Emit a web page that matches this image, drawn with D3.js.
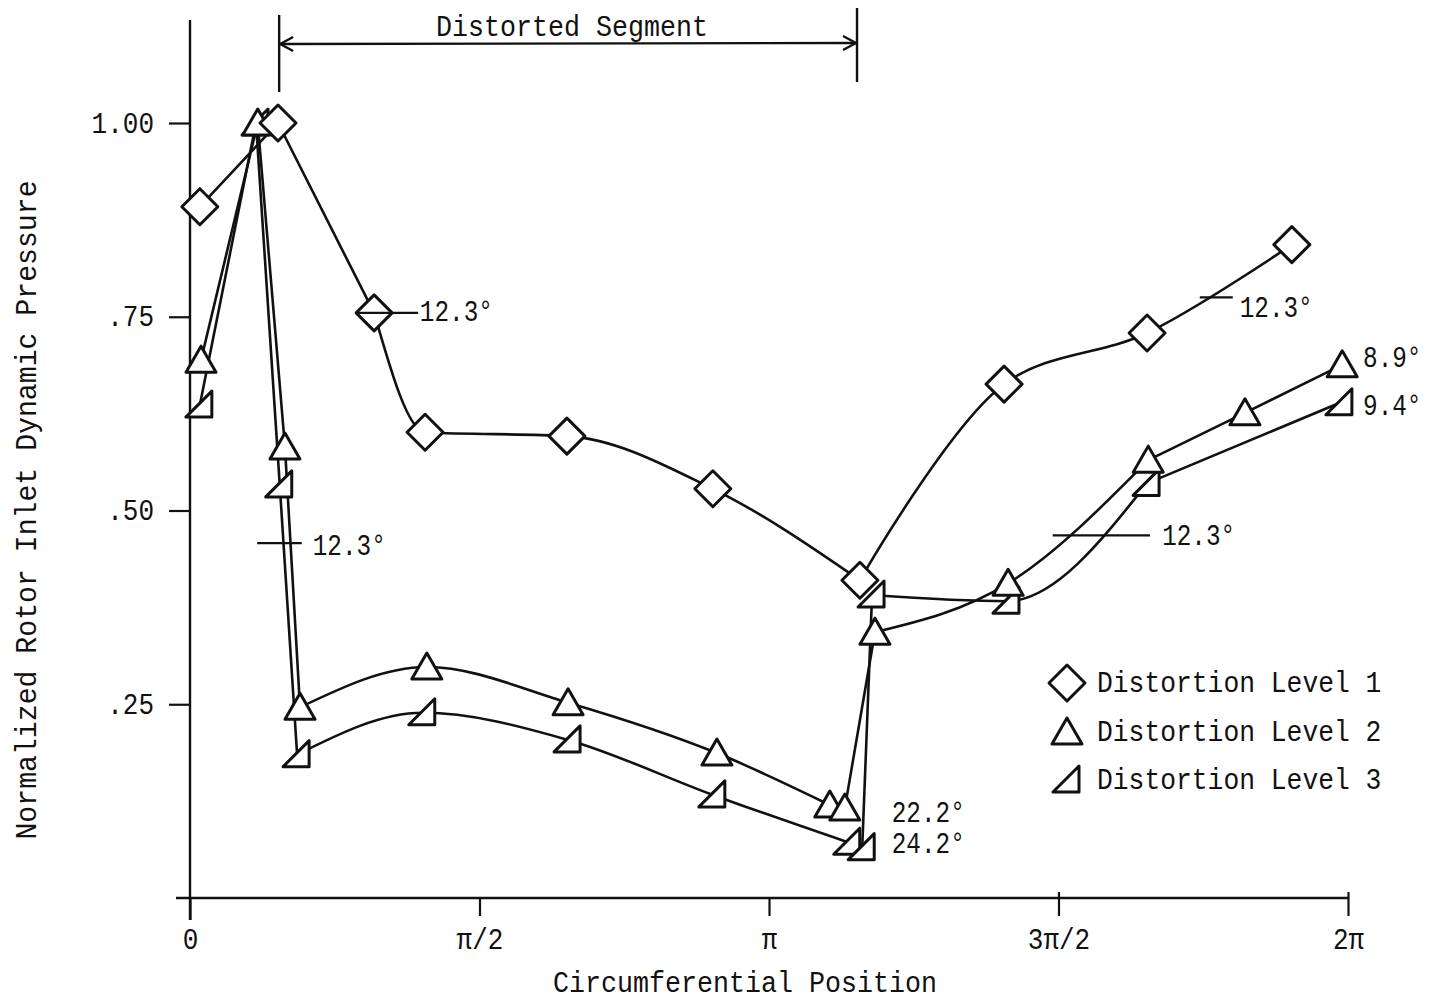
<!DOCTYPE html>
<html>
<head>
<meta charset="utf-8">
<script src="https://cdn.jsdelivr.net/npm/d3@7"></script>
<style>
  html, body { margin: 0; padding: 0; background: #fff; }
  svg { display: block; }
  text { font-family: "Liberation Mono", "Courier New", monospace; fill: #111; }
</style>
</head>
<body>
<svg id="chart" width="1435" height="1002"></svg>
<script>
// Circumferential position in units of π, normalized rotor inlet dynamic pressure
const level1X = [0.017, 0.152, 0.318, 0.406, 0.651, 0.903, 1.157, 1.406, 1.653, 1.903];
const level1Y = [0.892, 1.00, 0.755, 0.601, 0.596, 0.528, 0.410, 0.663, 0.729, 0.843];

const level2X = [0.019, 0.117, 0.164, 0.190, 0.409, 0.653, 0.910, 1.105, 1.131, 1.183, 1.413, 1.655, 1.822, 1.990];
const level2Y = [0.694, 1.00, 0.582, 0.246, 0.298, 0.252, 0.187, 0.120, 0.116, 0.343, 0.406, 0.565, 0.626, 0.688];

const level3X = [0.017, 0.114, 0.155, 0.185, 0.402, 0.653, 0.903, 1.136, 1.161, 1.178, 1.411, 1.653, 1.986];
const level3Y = [0.636, 1.00, 0.533, 0.185, 0.239, 0.204, 0.133, 0.072, 0.065, 0.391, 0.383, 0.535, 0.639];

// Which runs of points are joined by straight strokes and which by faired curves
const level1Pieces = [[0, 2, "linear"], [2, 6, "monotone"], [6, 9, "spline"]];
const level2Pieces = [[0, 3, "linear"], [3, 7, "monotone"], [7, 9, "linear"], [9, 11, "monotone"], [11, 13, "linear"]];
const level3Pieces = [[0, 3, "linear"], [3, 7, "monotone"], [7, 9, "linear"], [9, 11, "monotone"], [11, 12, "linear"]];

const seriesNames = ["Distortion Level 1", "Distortion Level 2", "Distortion Level 3"];

const xTickValues = [0, 0.5, 1, 1.5, 2];
const xTickLabels = ["0", "π/2", "π", "3π/2", "2π"];
const yTickValues = [0.25, 0.5, 0.75, 1.0];
const yTickLabels = [".25", ".50", ".75", "1.00"];

// Extent of the distorted segment (units of π)
const distortedSegment = [0.154, 1.152];

// Angle annotations: text anchor and optional leader line
const annoText  = ["12.3°", "12.3°", "12.3°", "12.3°", "8.9°", "9.4°", "22.2°", "24.2°"];
const annoX     = [0.397, 0.212, 1.813, 1.679, 2.026, 2.026, 1.212, 1.212];
const annoY     = [0.757, 0.455, 0.763, 0.468, 0.698, 0.636, 0.111, 0.071];
const annoLineX1 = [0.288, 0.116, 1.744, 1.490, null, null, null, null];
const annoLineX2 = [0.394, 0.193, 1.801, 1.658, null, null, null, null];
const annoLineY  = [0.755, 0.458, 0.775, 0.468, null, null, null, null];

const svg = d3.select("#chart");
const INK = "#111";

const x = d3.scaleLinear().domain([0, 2]).range([190, 1348]);
const y = d3.scaleLinear().domain([0, 1]).range([898, 123]);

// Typewriter-style text: tall glyphs on a narrow fixed pitch
function typeset(sel, pitch) {
  sel.each(function () {
    const t = d3.select(this);
    const n = Array.from(t.text()).length;
    t.attr("textLength", n * pitch).attr("lengthAdjust", "spacingAndGlyphs");
  });
  return sel;
}

// ---- axes ----
const xAxis = svg.append("g")
  .attr("transform", `translate(0,${y(0)})`)
  .call(d3.axisBottom(x).tickValues(xTickValues)
    .tickFormat((d, i) => xTickLabels[i]).tickSize(20));
xAxis.select(".domain").remove();
xAxis.selectAll(".tick line")
  .attr("stroke", INK).attr("stroke-width", 2.2)
  .attr("y1", d => d >= 1.5 ? -6 : 0)
  .attr("y2", d => d === 0 ? 22 : 18);
xAxis.selectAll(".tick text")
  .attr("y", 51).attr("dy", 0)
  .attr("font-size", 30).attr("font-family", null)
  .call(typeset, 15.6);

const yAxis = svg.append("g")
  .attr("transform", `translate(${x(0)},0)`)
  .call(d3.axisLeft(y).tickValues(yTickValues)
    .tickFormat((d, i) => yTickLabels[i]).tickSize(21));
yAxis.select(".domain").remove();
yAxis.selectAll(".tick line").attr("stroke", INK).attr("stroke-width", 2.2);
yAxis.selectAll(".tick text")
  .attr("x", -36).attr("dy", 9)
  .attr("font-size", 30).attr("font-family", null)
  .call(typeset, 15.6);

// axis rules
svg.append("line")
  .attr("x1", x(0)).attr("x2", x(0)).attr("y1", 20).attr("y2", y(0) + 22)
  .attr("stroke", INK).attr("stroke-width", 2.4);
svg.append("line")
  .attr("x1", x(0) - 14).attr("x2", x(2)).attr("y1", y(0)).attr("y2", y(0))
  .attr("stroke", INK).attr("stroke-width", 2.6);

// axis titles
svg.append("text")
  .attr("x", 745).attr("y", 992).attr("text-anchor", "middle")
  .attr("font-size", 30).text("Circumferential Position").call(typeset, 16);
svg.append("text")
  .attr("transform", "translate(36,510) rotate(-90)").attr("text-anchor", "middle")
  .attr("font-size", 30).text("Normalized Rotor Inlet Dynamic Pressure").call(typeset, 16.9);

// ---- distorted segment dimension line ----
const segG = svg.append("g").attr("stroke", INK).attr("fill", "none").attr("stroke-width", 2.4);
const sx0 = x(distortedSegment[0]), sx1 = x(distortedSegment[1]);
segG.append("line").attr("x1", sx0).attr("x2", sx0).attr("y1", 15).attr("y2", 92);
segG.append("line").attr("x1", sx1).attr("x2", sx1).attr("y1", 8).attr("y2", 82);
segG.append("line").attr("x1", sx0).attr("x2", sx1).attr("y1", 44).attr("y2", 43);
segG.append("path").attr("d", `M${sx0 + 14},37 L${sx0 + 1},44 L${sx0 + 14},51`);
segG.append("path").attr("d", `M${sx1 - 14},36 L${sx1 - 1},43 L${sx1 - 14},50`);
svg.append("text")
  .attr("x", (sx0 + sx1) / 2 + 4).attr("y", 36).attr("text-anchor", "middle")
  .attr("font-size", 30).text("Distorted Segment").call(typeset, 16);

// ---- data curves ----
const curveKinds = {
  linear: d3.curveLinear,
  monotone: d3.curveMonotoneX,
  spline: d3.curveCatmullRom.alpha(0.5)
};
function drawSeries(xs, ys, pieces) {
  const pts = xs.map((v, i) => [x(v), y(ys[i])]);
  pieces.forEach(([a, b, kind]) => {
    const gen = d3.line().curve(curveKinds[kind]);
    svg.append("path")
      .attr("d", gen(pts.slice(a, b + 1)))
      .attr("fill", "none").attr("stroke", INK).attr("stroke-width", 2.6)
      .attr("stroke-linejoin", "round").attr("stroke-linecap", "round");
  });
  return pts;
}
const pts1 = drawSeries(level1X, level1Y, level1Pieces);
const pts2 = drawSeries(level2X, level2Y, level2Pieces);
const pts3 = drawSeries(level3X, level3Y, level3Pieces);

// ---- markers ----
const diamondPath = "M0,-18 L18,0 L0,18 L-18,0 Z";
const trianglePath = "M0,-14 L15,12 L-15,12 Z";
const halfTrianglePath = "M12,-14 L12,12 L-14,12 Z";

function drawMarkers(pts, d) {
  svg.append("g").selectAll("path").data(pts).join("path")
    .attr("transform", p => `translate(${p[0]},${p[1]})`)
    .attr("d", d)
    .attr("fill", "#fff").attr("stroke", INK).attr("stroke-width", 3)
    .attr("stroke-linejoin", "round");
}
drawMarkers(pts3, halfTrianglePath);
drawMarkers(pts2, trianglePath);
drawMarkers(pts1, diamondPath);

// ---- angle annotations ----
annoText.forEach((t, i) => {
  if (annoLineX1[i] !== null) {
    svg.append("line")
      .attr("x1", x(annoLineX1[i])).attr("x2", x(annoLineX2[i]))
      .attr("y1", y(annoLineY[i])).attr("y2", y(annoLineY[i]))
      .attr("stroke", INK).attr("stroke-width", 2.2);
  }
  svg.append("text")
    .attr("x", x(annoX[i])).attr("y", y(annoY[i]) + 10)
    .attr("font-size", 30).text(t).call(typeset, 14.6);
});

// ---- legend ----
const legendShapes = [diamondPath, trianglePath, halfTrianglePath];
const legendRowY = [683, 732, 780];
const legend = svg.append("g");
seriesNames.forEach((name, i) => {
  legend.append("path")
    .attr("transform", `translate(1067,${legendRowY[i]})`)
    .attr("d", legendShapes[i])
    .attr("fill", "#fff").attr("stroke", INK).attr("stroke-width", 3)
    .attr("stroke-linejoin", "round");
  legend.append("text")
    .attr("x", 1097).attr("y", legendRowY[i] + 9)
    .attr("font-size", 30).text(name).call(typeset, 15.8);
});
</script>
</body>
</html>
